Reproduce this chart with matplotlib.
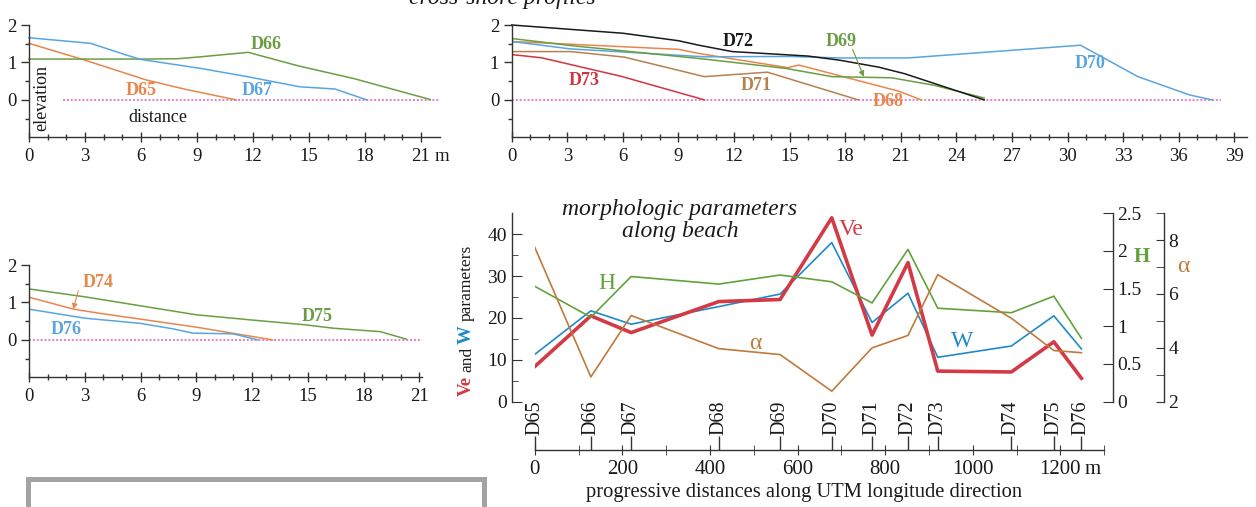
import matplotlib
matplotlib.use('Agg')
import matplotlib.pyplot as plt
from matplotlib.patches import Rectangle
import numpy as np

plt.rcParams['font.family'] = ['Liberation Serif', 'DejaVu Serif']
plt.rcParams['axes.linewidth'] = 1.0
plt.rcParams['axes.edgecolor'] = '#333333'
plt.rcParams['xtick.color'] = '#333333'
plt.rcParams['ytick.color'] = '#333333'
plt.rcParams['xtick.labelcolor'] = '#1a1a1a'
plt.rcParams['ytick.labelcolor'] = '#1a1a1a'

# ---------------- data: cross-shore profiles (distance m, elevation m) -------------
d65_x = [0, 3.0, 6.3, 8.4, 11.1]
d65_y = [1.51, 1.06, 0.53, 0.28, 0.0]
d66_x = [0, 3, 6, 8, 9.2, 11.75, 13.3, 14.5, 17.4, 21.5]
d66_y = [1.09, 1.09, 1.09, 1.1, 1.15, 1.27, 1.06, 0.9, 0.57, 0.01]
d67_x = [0, 3.3, 5.2, 6.0, 9.2, 11.7, 14.5, 16.4, 18.1]
d67_y = [1.66, 1.51, 1.2, 1.08, 0.84, 0.62, 0.35, 0.29, 0.0]

d68_x = [0, 6, 9, 10.1, 14.9, 15.5, 20.9, 22.1]
d68_y = [1.56, 1.42, 1.35, 1.24, 0.86, 0.93, 0.23, 0.0]
d69_x = [0, 3.2, 6, 10.4, 14.8, 17.3, 20.5, 22.8, 25.5]
d69_y = [1.64, 1.45, 1.31, 1.09, 0.84, 0.62, 0.59, 0.39, 0.05]
d70_x = [0, 3.2, 6, 10.4, 15, 17.7, 21.4, 30.7, 33.8, 36.6, 37.8]
d70_y = [1.56, 1.36, 1.28, 1.15, 1.16, 1.12, 1.12, 1.46, 0.62, 0.13, 0.0]
d71_x = [0, 3.2, 6.1, 10.4, 13.8, 18.7]
d71_y = [1.29, 1.29, 1.14, 0.62, 0.74, 0.0]
d72_x = [0, 6, 9, 10.1, 11.9, 16, 17.7, 19.8, 21.2, 25.5]
d72_y = [2.0, 1.78, 1.58, 1.46, 1.29, 1.17, 1.06, 0.875, 0.7, 0.0]
d73_x = [0, 1.6, 5.9, 10.4]
d73_y = [1.21, 1.125, 0.63, 0.0]

d74_x = [0, 2.4, 3.8, 9, 13.1]
d74_y = [1.14, 0.82, 0.71, 0.34, 0.0]
d75_x = [0, 3, 9, 12, 14.9, 16.4, 18.9, 20.3]
d75_y = [1.36, 1.15, 0.67, 0.53, 0.4, 0.31, 0.22, 0.02]
d76_x = [0, 3, 6, 7.8, 8.8, 11, 12.3]
d76_y = [0.82, 0.58, 0.44, 0.29, 0.18, 0.16, 0.0]

# ---------------- data: morphologic parameters along beach ----------------
stations = ['D65', 'D66', 'D67', 'D68', 'D69', 'D70', 'D71', 'D72', 'D73', 'D74', 'D75', 'D76']
dist_m = [0, 128, 220, 420, 560, 678, 770, 852, 920, 1088, 1185, 1248]
Ve = [8.4, 20.5, 16.5, 23.9, 24.4, 43.9, 15.9, 33.2, 7.3, 7.1, 14.3, 5.6]
Wp = [11.3, 21.7, 18.5, 22.7, 25.7, 38.0, 18.9, 25.9, 10.6, 13.3, 20.5, 12.6]
Hp = [1.53, 1.12, 1.66, 1.56, 1.68, 1.59, 1.31, 2.02, 1.24, 1.18, 1.40, 0.84]
alpha = [7.73, 2.92, 5.2, 3.97, 3.75, 2.39, 4.0, 4.46, 6.72, 5.1, 3.9, 3.82]

ORANGE = '#E8864C'
BLUE = '#5AA5DF'
GREEN = '#6B9E42'
BLACK = '#1a1a1a'
RED = '#D1353F'
BROWN = '#B5814F'
PINK = '#E27FC9'
VE_C = '#D33A45'
W_C = '#1E8AC9'
H_C = '#62A23C'
A_C = '#C07A3C'

W_PX, H_PX = 1256, 507
fig = plt.figure(figsize=(12.56, 5.07), dpi=100)


def add_ax(left, top, right, bottom):
    return fig.add_axes([left / W_PX, 1 - bottom / H_PX, (right - left) / W_PX, (bottom - top) / H_PX])


def style_profile(ax, xmax, xmaj_max):
    ax.set_xlim(0, xmax)
    ax.set_ylim(-1, 2)
    for s in ['top', 'right']:
        ax.spines[s].set_visible(False)
    ax.set_xticks(np.arange(0, xmaj_max + 1, 3))
    ax.set_xticks(np.arange(0, xmaj_max + 1, 1), minor=True)
    ax.set_yticks([0, 1, 2])
    ax.set_yticks([-0.5, 0.5, 1.5], minor=True)
    ax.tick_params(axis='x', which='major', direction='inout', length=7, width=1, labelsize=13.5, pad=4)
    ax.tick_params(axis='x', which='minor', direction='inout', length=4, width=1)
    ax.tick_params(axis='y', which='major', direction='out', length=6, width=1, labelsize=13.5, pad=3)
    ax.tick_params(axis='y', which='minor', direction='out', length=3, width=1)
    ax.patch.set_visible(False)


def lab(ax, x, y, s, c, **kw):
    ax.text(x, y, s, color=c, fontsize=13, fontweight='bold', ha='center', va='center', **kw)


LW = 1.1

# ---------------- top-left panel ----------------
ax1 = add_ax(29, 25, 439.5, 137.3)
style_profile(ax1, 22.0, 21)
ax1.plot([1.8, 22], [0, 0], ls=(0, (1, 1)), color=PINK, lw=1.4)
ax1.plot(d65_x, d65_y, color=ORANGE, lw=LW, clip_on=False)
ax1.plot(d66_x, d66_y, color=GREEN, lw=LW, clip_on=False)
ax1.plot(d67_x, d67_y, color=BLUE, lw=LW, clip_on=False)
lab(ax1, 6.0, 0.26, 'D65', ORANGE)
lab(ax1, 12.2, 0.26, 'D67', BLUE)
lab(ax1, 12.7, 1.47, 'D66', GREEN)
ax1.text(0.7, 0.04, 'elevation', rotation=90, fontsize=13, ha='center', va='center', color=BLACK)
ax1.text(6.9, -0.48, 'distance', fontsize=13, ha='center', va='center', color=BLACK)
ax1.annotate('m', xy=(21.72, 0), xycoords=ax1.get_xaxis_transform(), xytext=(0, -7.5),
             textcoords='offset points', ha='left', va='top', fontsize=13.5, color=BLACK)

# ---------------- top-right panel ----------------
ax2 = add_ax(511.7, 25, 1246.7, 137.3)
style_profile(ax2, 39.67, 39)
ax2.plot([0, 38.3], [0, 0], ls=(0, (1, 1)), color=PINK, lw=1.4)
ax2.plot(d73_x, d73_y, color=RED, lw=LW)
ax2.plot(d71_x, d71_y, color=BROWN, lw=LW)
ax2.plot(d68_x, d68_y, color=ORANGE, lw=LW)
ax2.plot(d70_x, d70_y, color=BLUE, lw=LW)
ax2.plot(d69_x, d69_y, color=GREEN, lw=LW)
ax2.plot(d72_x, d72_y, color=BLACK, lw=LW, clip_on=False)
lab(ax2, 12.2, 1.55, 'D72', BLACK)
lab(ax2, 17.8, 1.57, 'D69', GREEN)
lab(ax2, 13.2, 0.39, 'D71', BROWN)
lab(ax2, 20.3, -0.05, 'D68', ORANGE)
lab(ax2, 3.9, 0.53, 'D73', RED)
lab(ax2, 31.2, 0.98, 'D70', BLUE)
ax2.annotate('', xy=(19.0, 0.62), xytext=(18.4, 1.35),
             arrowprops=dict(arrowstyle='-|>', color=GREEN, lw=0.8, mutation_scale=8, shrinkA=0, shrinkB=0))

# ---------------- bottom-left panel ----------------
ax3 = add_ax(29, 265, 421.7, 377.3)
style_profile(ax3, 21.13, 21)
ax3.plot([0, 21.2], [0, 0], ls=(0, (1, 1)), color=PINK, lw=1.4)
ax3.plot(d75_x, d75_y, color=GREEN, lw=LW)
ax3.plot(d74_x, d74_y, color=ORANGE, lw=LW)
ax3.plot(d76_x, d76_y, color=BLUE, lw=LW)
lab(ax3, 3.7, 1.54, 'D74', ORANGE)
lab(ax3, 2.0, 0.29, 'D76', BLUE)
lab(ax3, 15.5, 0.62, 'D75', GREEN)
ax3.annotate('', xy=(2.38, 0.82), xytext=(2.65, 1.31),
             arrowprops=dict(arrowstyle='-|>', color=ORANGE, lw=0.8, mutation_scale=8, shrinkA=0, shrinkB=0))

# ---------------- bottom-right panel ----------------
SPINE_Y = -48.3 / 188.5
axB = add_ax(534.8, 213.2, 1104.2, 401.7)
axB.patch.set_visible(False)
axB.set_xlim(0, 1300)
axB.set_ylim(0, 45)
axB.spines['top'].set_visible(False)
axB.spines['right'].set_visible(False)
axB.spines['left'].set_position(('axes', -23.1 / 569.4))
axB.spines['bottom'].set_position(('axes', SPINE_Y))
axB.set_yticks([0, 10, 20, 30, 40])
axB.set_yticks([5, 15, 25, 35], minor=True)
axB.tick_params(axis='y', which='major', direction='in', length=7, labelsize=14, pad=3.5)
axB.tick_params(axis='y', which='minor', direction='in', length=4)
xt = np.arange(0, 1201, 200)
axB.set_xticks(xt)
axB.set_xticklabels([str(v) for v in xt])
axB.set_xticks(np.arange(0, 1301, 100), minor=True)
axB.tick_params(axis='x', which='both', direction='inout', length=7, labelsize=15, pad=3.5)
axB.plot(dist_m, Wp, color=W_C, lw=1.2)
axB.plot(dist_m, Ve, color=VE_C, lw=2.6)
axB.annotate('m', xy=(1256, SPINE_Y), xycoords=axB.get_xaxis_transform(), xytext=(0, -7),
             textcoords='offset points', ha='left', va='top', fontsize=15, color=BLACK,
             annotation_clip=False)

axH = axB.twinx()
axH.set_ylim(0, 2.5)
for s in ['top', 'left', 'bottom']:
    axH.spines[s].set_visible(False)
axH.spines['right'].set_position(('axes', (1112.7 - 534.8) / 569.4))
axH.set_yticks([0, 0.5, 1, 1.5, 2, 2.5])
axH.set_yticklabels(['0', '0.5', '1', '1.5', '2', '2.5'])
axH.tick_params(axis='y', direction='in', length=7, labelsize=14, pad=3)
axH.plot(dist_m, Hp, color=H_C, lw=1.2)

axA = axB.twinx()
axA.set_ylim(2, 9)
for s in ['top', 'left', 'bottom']:
    axA.spines[s].set_visible(False)
axA.spines['right'].set_position(('axes', (1164.3 - 534.8) / 569.4))
axA.set_yticks([2, 4, 6, 8])
axA.set_yticks([3, 5, 7, 9], minor=True)
axA.tick_params(axis='y', which='both', direction='in', length=6, labelsize=14, pad=3)
axA.plot(dist_m, alpha, color=A_C, lw=1.2)

axD = axB.twiny()
axD.set_xlim(0, 1300)
for s in ['top', 'left', 'right', 'bottom']:
    axD.spines[s].set_visible(False)
axD.spines['top'].set_position(('axes', SPINE_Y))
axD.set_xticks(dist_m)
axD.set_xticklabels(stations, rotation=90, fontsize=14.5)
axD.tick_params(axis='x', direction='out', length=10, pad=1, width=1)

# in-plot series labels
axB.text(723, 41, 'Ve', color=VE_C, fontsize=17, ha='center', va='center')
axB.text(164, 28.3, 'H', color=H_C, fontsize=17, ha='center', va='center')
axB.text(503, 13.9, 'α', color=A_C, fontsize=17, ha='center', va='center')
axB.text(975, 14.3, 'W', color=W_C, fontsize=17, ha='center', va='center')

fig.text(804 / W_PX, 1 - 493 / H_PX, 'progressive distances along UTM longitude direction',
         fontsize=14.8, ha='center', va='center', color=BLACK)

fig.text(1141.7 / W_PX, 1 - 256.7 / H_PX, 'H', color=H_C, fontsize=15, fontweight='bold', ha='center', va='center')
fig.text(1183.3 / W_PX, 1 - 266.7 / H_PX, 'α', color=A_C, fontsize=17, ha='center', va='center')

fig.text(680 / W_PX, 1 - 210 / H_PX, 'morphologic parameters', style='italic', fontsize=17,
         ha='center', va='center', color=BLACK)
fig.text(680 / W_PX, 1 - 232 / H_PX, 'along beach', style='italic', fontsize=17,
         ha='center', va='center', color=BLACK)
fig.text(502 / W_PX, 1 - 4 / H_PX, 'cross-shore profiles', style='italic', fontsize=17,
         ha='center', va='baseline', color=BLACK)

# multi-coloured y label
fig.canvas.draw()
rend = fig.canvas.get_renderer()
ypix = 396
xbase = 471
parts = [('Ve', VE_C, 'bold', 13.5), ('and', BLACK, 'normal', 12.5),
         ('W', W_C, 'bold', 13.5), ('parameters', BLACK, 'normal', 12.5)]
for s, c, w, fs in parts:
    t = fig.text(xbase / W_PX, 1 - ypix / H_PX, s, rotation=90, rotation_mode='anchor',
                 ha='left', va='baseline', color=c, fontweight=w, fontsize=fs)
    bb = t.get_window_extent(rend)
    ypix -= bb.height + 3.5

# grey frame at the bottom
fig.add_artist(Rectangle((28.5 / W_PX, -0.05), 456 / W_PX, (507 - 479.2) / H_PX + 0.05,
                         transform=fig.transFigure, fill=False, edgecolor='#A3A3A3', lw=3.6,
                         clip_on=False))

fig.savefig('out.png', dpi=100)
